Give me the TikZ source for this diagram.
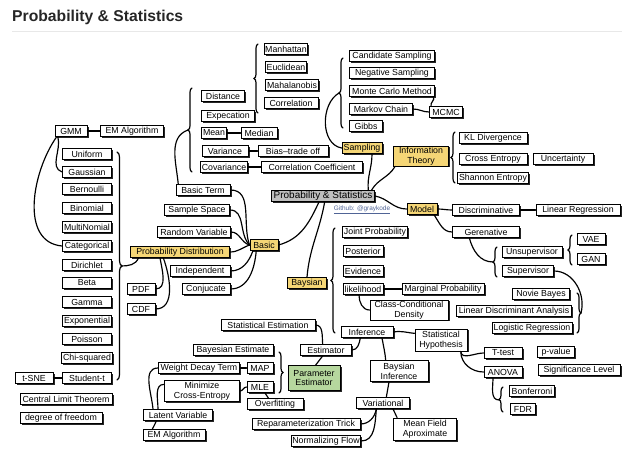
\documentclass[tikz,border=0pt]{standalone}
\usepackage{fontspec}
\setmainfont{Liberation Sans}
\usetikzlibrary{shadows, decorations.pathreplacing}
\definecolor{topicyellow}{RGB}{245,214,118}
\definecolor{hubgray}{RGB}{190,190,190}
\definecolor{estgreen}{RGB}{182,215,158}
\definecolor{gitblue}{RGB}{80,100,150}
\definecolor{rulegray}{RGB}{232,232,232}

\begin{document}
\begin{tikzpicture}[
  x=0.03cm, y=-0.03cm,
  box/.style={draw, line width=0.75pt, fill=white, font=\fontsize{7.5}{8.5}\selectfont,
    minimum height=0.33cm, inner xsep=1pt, inner ysep=0pt, align=center,
    drop shadow={shadow xshift=0.045cm, shadow yshift=-0.045cm, fill=black!85, opacity=1}},
  wd/.style={minimum width=#1*0.03cm},
  ht/.style={minimum height=#1*0.03cm},
  topic/.style={box, fill=topicyellow},
  hub/.style={box, fill=hubgray, font=\fontsize{8.5}{9.5}\selectfont},
  pest/.style={box, fill=estgreen},
  link/.style={line width=1pt, line cap=round},
  curly/.style={link, decorate, decoration={brace, amplitude=0.12cm}}
]
  \useasboundingbox (0,0) rectangle (639,457);

  % title
  \node[anchor=west, inner sep=0, text=black!85,
        font=\fontsize{13.4}{15}\selectfont\bfseries] (title) at (12,17) {Probability \& Statistics};
  \coordinate (ruleL) at (12,31);
  \coordinate (ruleR) at (622,31);
  \draw[rulegray, line width=0.6pt] (ruleL) -- (ruleR);

  % centre
  \node[hub, wd=103] (root) at (323,196) {Probability \& Statistics};
  \node[inner sep=0, text=gitblue, font=\fontsize{5.5}{6}\selectfont] (github) at (362,210) {\underline{Github: @graykode}};

  % basic
  \node[topic, wd=28] (basic) at (264,245) {Basic};
  \node[box, wd=54] (bterm)  at (203,190) {Basic Term};
  \node[box, wd=65] (sspace) at (197,210) {Sample Space};
  \node[box, wd=73] (rvar)   at (194,232) {Random Variable};
  \node[topic, wd=99] (pdist) at (180,252) {Probability Distribution};
  \node[box, wd=60] (indep)  at (200,271) {Independent};
  \node[box, wd=48] (conj)   at (206,289) {Conjucate};

  \node[box, wd=43] (dist) at (223,96)  {Distance};
  \node[box, wd=53] (expe) at (228,116) {Expecation};
  \node[box, wd=24] (mean) at (214,133) {Mean};
  \node[box, wd=36] (medi) at (259,133) {Median};
  \node[box, wd=46] (vari) at (225,151) {Variance};
  \node[box, wd=70] (bias) at (293,151) {Bias--trade off};
  \node[box, wd=45] (cova) at (224,167) {Covariance};
  \node[box, wd=101] (ccoe) at (312,167) {Correlation Coefficient};

  \node[box, wd=42] (manh) at (286,49)  {Manhattan};
  \node[box, wd=41] (eucl) at (286,67)  {Euclidean};
  \node[box, wd=52] (maha) at (292,85)  {Mahalanobis};
  \node[box, wd=54] (corr) at (291,103) {Correlation};

  % distributions
  \node[box, wd=32] (gmm) at (71,131)  {GMM};
  \node[box, wd=63] (emt) at (132,131) {EM Algorithm};
  \node[box, wd=49] (unif)  at (87,154) {Uniform};
  \node[box, wd=49] (gauss) at (87,172) {Gaussian};
  \node[box, wd=49] (bern)  at (87,189) {Bernoulli};
  \node[box, wd=49] (binom) at (87,208) {Binomial};
  \node[box, wd=49] (multi) at (87,227) {MultiNomial};
  \node[box, wd=49] (categ) at (87,246) {Categorical};
  \node[box, wd=49] (diri)  at (87,265) {Dirichlet};
  \node[box, wd=49] (beta)  at (87,283) {Beta};
  \node[box, wd=49] (gamma) at (87,302) {Gamma};
  \node[box, wd=49] (expo)  at (87,321) {Exponential};
  \node[box, wd=49] (poiss) at (87,339) {Poisson};
  \node[box, wd=49] (chisq) at (87,358) {Chi-squared};
  \node[box, wd=49] (studt) at (87,378) {Student-t};
  \node[box, wd=38] (tsne)  at (34,378) {t-SNE};
  \node[box, wd=92] (clt)   at (66,399) {Central Limit Theorem};
  \node[box, wd=82] (dof)   at (61,418) {degree of freedom};
  \node[box, wd=28] (pdf)   at (141,289) {PDF};
  \node[box, wd=28] (cdf)   at (141,309) {CDF};

  % sampling
  \node[topic, wd=40] (samp) at (362,148) {Sampling};
  \node[box, wd=85] (cand)   at (392,56)  {Candidate Sampling};
  \node[box, wd=85] (nega)   at (392,73)  {Negative Sampling};
  \node[box, wd=85] (mcm)    at (392,91)  {Monte Carlo Method};
  \node[box, wd=63] (mchain) at (381,109) {Markov Chain};
  \node[box, wd=33] (gibbs)  at (366,126) {Gibbs};
  \node[box, wd=33] (mcmc)   at (446,112) {MCMC};

  % information theory
  \node[topic, wd=55, ht=20] (info) at (421,156) {Information\\Theory};
  \node[box, wd=68] (kl)   at (493,138) {KL Divergence};
  \node[box, wd=68] (xent) at (493,159) {Cross Entropy};
  \node[box, wd=60] (unc)  at (563,159) {Uncertainty};
  \node[box, wd=68] (shan) at (493,178) {Shannon Entropy};

  % model
  \node[topic, wd=30] (model) at (422,209) {Model};
  \node[box, wd=67] (disc)   at (486,210) {Discriminative};
  \node[box, wd=84] (linreg) at (578,210) {Linear Regression};
  \node[box, wd=67] (gene)   at (486,232) {Gerenative};
  \node[box, wd=60] (unsup)  at (532,252) {Unsupervisor};
  \node[box, wd=51] (sup)    at (528,271) {Supervisor};
  \node[box, wd=28] (vae)    at (591,239) {VAE};
  \node[box, wd=28] (gan)    at (591,259) {GAN};
  \node[box, wd=57] (nbayes) at (541,294) {Novie Bayes};
  \node[box, wd=115] (lda)   at (514,311) {Linear Discriminant Analysis};
  \node[box, wd=80] (logreg) at (532,328) {Logistic Regression};

  % baysian
  \node[topic, wd=39] (bays) at (307,283) {Baysian};
  \node[box, wd=64] (joint) at (375,232) {Joint Probability};
  \node[box, wd=40] (post)  at (363,251) {Posterior};
  \node[box, wd=40] (evid)  at (363,271) {Evidence};
  \node[box, wd=40] (like)  at (363,289) {likelihood};
  \node[box, wd=82] (marg)  at (443,289) {Marginal Probability};
  \node[box, wd=78, ht=20] (ccd) at (409,310) {Class-Conditional\\Density};
  \node[box, wd=52] (infer) at (367,332) {Inference};
  \node[box, wd=52, ht=22] (shyp) at (441,340) {Statistical\\Hypothesis};
  \node[box, wd=38] (ttest)  at (503,353) {T-test};
  \node[box, wd=38] (anova)  at (503,372) {ANOVA};
  \node[box, wd=37] (pval)   at (556,352) {p-value};
  \node[box, wd=82] (siglev) at (579,370) {Significance Level};
  \node[box, wd=45] (bonf)   at (532,391) {Bonferroni};
  \node[box, wd=25] (fdr)    at (523,409) {FDR};
  \node[box, wd=58, ht=21] (binf) at (399,371) {Baysian\\Inference};
  \node[box, wd=53] (varn)   at (383,403) {Variational};
  \node[box, wd=63, ht=22] (mfa) at (425,429) {Mean Field\\Aproximate};
  \node[box, wd=108] (rtrick) at (306,424) {Reparameterization Trick};
  \node[box, wd=66] (nflow)  at (326,441) {Normalizing Flow};

  % estimation
  \node[box, wd=94] (sest)   at (268,325) {Statistical Estimation};
  \node[box, wd=51] (estim)  at (326,350) {Estimator};
  \node[pest, wd=52, ht=25] (pest) at (314,378) {Parameter\\Estimator};
  \node[box, wd=80] (bayest) at (233,350) {Bayesian Estimate};
  \node[box, wd=26] (map)    at (260,368) {MAP};
  \node[box, wd=26] (mle)    at (260,387) {MLE};
  \node[box, wd=81] (wdt)    at (199,368) {Weight Decay Term};
  \node[box, wd=75, ht=21] (mce) at (202,391) {Minimize\\Cross-Entropy};
  \node[box, wd=56] (overf)  at (275,404) {Overfitting};
  \node[box, wd=69] (latent) at (178,415) {Latent Variable};
  \node[box, wd=62] (emb)    at (174,435) {EM Algorithm};

  % braces
  \coordinate (btip) at (188,130);
  \coordinate (stip) at (339,93);
  \coordinate (gtip) at (493,262);
  \coordinate (suptip) at (581,313);
  \coordinate (atip) at (499,400);
  \coordinate (dtip) at (121,266);
  \draw[curly] (258,113) -- (258,44);
  \draw[curly] (192,172) -- (192,88);
  \draw[curly] (343,128) -- (343,58);
  \draw[curly] (455,183) -- (455,132);
  \draw[curly] (497,277) -- (497,247);
  \draw[curly] (572,265) -- (572,235);
  \draw[curly] (577,293) -- (577,333);
  \draw[curly] (335,333) -- (335,228);
  \draw[curly] (503,412) -- (503,387);
  \draw[curly] (279,352) -- (279,393);
  \draw[curly, decoration={brace, amplitude=0.15cm}] (117,152) -- (117,380);

  % connectors
  \draw[link] (basic.east) to[out=15,in=-115] ([xshift=-0.12cm]root.south);
  \draw[link] (bays.north) to[out=85,in=-100] ([xshift=0.05cm]root.south);
  \draw[link] (root.east) to[out=-10,in=180] (model.west);
  \draw[link] ([xshift=-0.1cm]root.north east) to[out=60,in=-120] ([xshift=0.06cm]info.south west);
  \draw[link] ([xshift=-0.2cm]root.north east) to[out=95,in=-90] ([xshift=0.3cm]samp.south);

  \draw[link] (bterm.east)  to[out=0,in=110] (basic.west);
  \draw[link] (sspace.east) to[out=0,in=135] (basic.west);
  \draw[link] (rvar.east)   to[out=0,in=165] (basic.west);
  \draw[link] (pdist.east)  to[out=0,in=200] (basic.west);
  \draw[link] (indep.east)  to[out=0,in=-110] ([xshift=0.1cm]basic.south west);
  \draw[link] (conj.east)   to[out=0,in=-95] ([xshift=0.2cm]basic.south west);
  \draw[link] (btip) to[out=200,in=95] ([xshift=0.08cm]bterm.north west);
  \draw[link] (mean.east) -- (medi.west);
  \draw[link] (vari.east) -- (bias.west);
  \draw[link] (cova.east) -- (ccoe.west);

  \draw[link] (gmm.east) -- (emt.west);
  \draw[link] ([xshift=0.06cm]gmm.south west) to[out=-125,in=175] (categ.west);
  \draw[link] ([xshift=0.1cm]gmm.south west) to[out=-75,in=160] (gauss.west);
  \draw[link] (tsne.east) -- (studt.west);
  \draw[link] (dtip) to[out=0,in=-110] ([xshift=0.25cm]pdist.south west);
  \draw[link] ([xshift=-0.6cm]pdist.south) to[out=-80,in=0] (pdf.east);
  \draw[link] ([xshift=-0.5cm]pdist.south) to[out=-70,in=0] (cdf.east);

  \draw[link] (stip) to[out=210,in=170] (samp.west);
  \draw[link] (mchain.east) to[out=0,in=180] (mcmc.west);
  \draw[link] ([xshift=-0.05cm]mcm.south east) to[out=-50,in=110] ([xshift=0.06cm]mcmc.north west);

  \draw[link] (model.east) to[out=0,in=180] (disc.west);
  \draw[link] (disc.east) to[out=0,in=180] (linreg.west);
  \draw[link] ([xshift=-0.1cm]model.south east) to[out=-55,in=180] (gene.west);
  \draw[link] ([xshift=-0.5cm]gene.south) to[out=-75,in=180] (gtip);
  \draw[link] (sup.east) to[out=0,in=75] (suptip);

  \draw[link] (like.east) -- (marg.west);
  \draw[link] ([xshift=-0.12cm]like.south) to[out=-90,in=180] (ccd.west);
  \draw[link] (infer.east) to[out=10,in=175] ([yshift=0.2cm]shyp.west);
  \draw[link] ([xshift=-0.2cm]shyp.south east) to[out=-85,in=180] (ttest.west);
  \draw[link] ([xshift=-0.2cm]shyp.south east) to[out=-90,in=180] (anova.west);
  \draw[link] ([xshift=-0.3cm]anova.south) to[out=-90,in=180] (atip);
  \draw[link] ([xshift=0.45cm]infer.south) to[out=-80,in=95] ([xshift=-0.4cm]binf.north);
  \draw[link] ([xshift=-0.2cm]infer.south) to[out=-100,in=0] (estim.east);
  \draw[link] ([xshift=-0.3cm]binf.south) -- ([xshift=0.1cm]varn.north);
  \draw[link] ([xshift=-0.2cm]varn.south) to[out=-100,in=0] (rtrick.east);
  \draw[link] ([xshift=-0.2cm]varn.south) to[out=-95,in=0] (nflow.east);
  \draw[link] ([xshift=0.3cm]varn.south) -- ([xshift=0.12cm]mfa.north west);

  \draw[link] (sest.east) to[out=0,in=95] ([xshift=-0.1cm]estim.north);
  \draw[link] ([xshift=-0.1cm]estim.south) -- ([xshift=0.05cm]pest.north);
  \draw[link] (wdt.east) -- (map.west);
  \draw[link] (mce.east) to[out=0,in=180] (mle.west);
  \draw[link] ([xshift=0.15cm]mle.south) -- ([xshift=-0.2cm]overf.north);
  \draw[link] ([xshift=-0.75cm]latent.north) to[out=95,in=180] (wdt.west);
  \draw[link] ([xshift=-0.6cm]latent.north) to[out=90,in=180] ([yshift=0.2cm]mce.west);
  \draw[link] ([xshift=-0.65cm]latent.south) to[out=-95,in=80] ([xshift=-0.65cm]emb.north);
\end{tikzpicture}
\end{document}
